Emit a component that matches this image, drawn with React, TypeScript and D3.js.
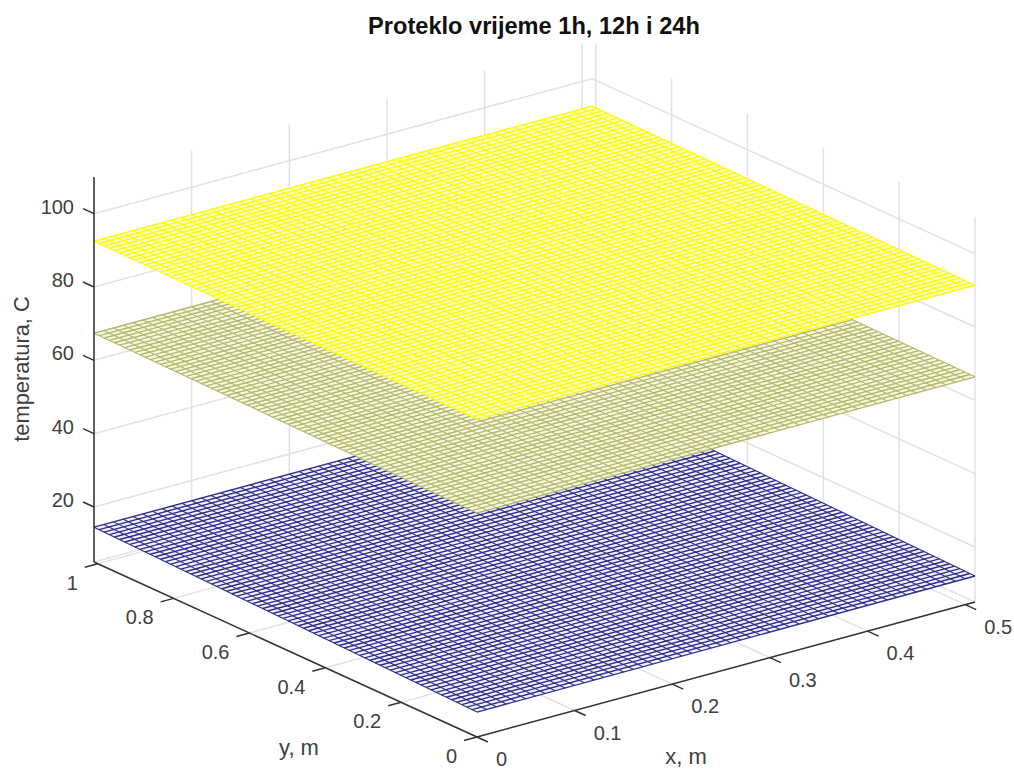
import React from "react";
import * as d3 from "d3";

const titleText = "Proteklo vrijeme 1h, 12h i 24h";
const xTicks = [0, 0.1, 0.2, 0.3, 0.4, 0.5];
const yTicks = [0, 0.2, 0.4, 0.6, 0.8, 1];
const zTicks = [20, 40, 60, 80, 100];
const xLimits = [0, 0.51];
const yLimits = [0, 1.01];
const zLimits = [5, 110];
const meshCellsX = 51;
const meshCellsY = 75;

// corner temperatures: [x0y0, x1y0, x0y1, x1y1]
const temp1h = [11.8, 12.1, 14.5, 14.5];
const temp12h = [66.1, 66.4, 67.4, 67.4];
const temp24h = [91.7, 91.4, 92.5, 92.5];

const surfaces = [
  { z: temp1h, line: "#2e2e90", fill: "#f2f2fa", rowWidth: 1.4, colWidth: 1.1 },
  { z: temp12h, line: "#b4b76f", fill: "#f7f8dc", rowWidth: 1.4, colWidth: 1.1 },
  { z: temp24h, line: "#fbfb14", fill: "#fdfdc8", rowWidth: 1.5, colWidth: 1.2 },
];

const font = "'Liberation Sans', Arial, sans-serif";
const tickColor = "#404040";

const sx = d3.scaleLinear().domain(xLimits).range([0, 1]);
const sy = d3.scaleLinear().domain(yLimits).range([0, 1]);
const szPx = d3.scaleLinear().domain(zLimits).range([0, 385]);

const O = [477, 737];
const vX = [498, -135];
const vY = [-383, -175];

const proj = (x: number, y: number, z: number): [number, number] => {
  const u = sx(x), v = sy(y);
  return [O[0] + u * vX[0] + v * vY[0], O[1] + u * vX[1] + v * vY[1] - szPx(z)];
};

const seg = (a: [number, number], b: [number, number]) =>
  d3.line()([a, b]) as string;

const [x0, x1] = xLimits;
const [y0, y1] = yLimits;
const [z0, z1] = zLimits;

function Surface({ s }: { s: (typeof surfaces)[number] }) {
  const zAt = (u: number, v: number) =>
    s.z[0] * (1 - u) * (1 - v) + s.z[1] * u * (1 - v) + s.z[2] * (1 - u) * v + s.z[3] * u * v;
  const pt = (u: number, v: number) => proj(x0 + u * (x1 - x0), y0 + v * (y1 - y0), zAt(u, v));
  const outline = d3.line()([pt(0, 0), pt(1, 0), pt(1, 1), pt(0, 1)]) + "Z";
  const us = d3.range(meshCellsX + 1).map((i) => i / meshCellsX);
  const vs = d3.range(meshCellsY + 1).map((i) => i / meshCellsY);
  const cols = us.map((u) => seg(pt(u, 0), pt(u, 1))).join("");
  const rows = vs.map((v) => seg(pt(0, v), pt(1, v))).join("");
  return (
    <g filter="url(#soft)">
      <path d={outline} fill={s.fill} />
      <path d={cols} fill="none" stroke={s.line} strokeWidth={s.colWidth} />
      <path d={rows} fill="none" stroke={s.line} strokeWidth={s.rowWidth} />
    </g>
  );
}

export default function App() {
  const grid: string[] = [];
  xTicks.forEach((t) => {
    grid.push(seg(proj(t, y1, z0), proj(t, y1, z1)));
    grid.push(seg(proj(t, y0, z0), proj(t, y1, z0)));
  });
  yTicks.forEach((t) => {
    grid.push(seg(proj(x1, t, z0), proj(x1, t, z1)));
    grid.push(seg(proj(x0, t, z0), proj(x1, t, z0)));
  });
  zTicks.forEach((t) => {
    grid.push(seg(proj(x0, y1, t), proj(x1, y1, t)));
    grid.push(seg(proj(x1, y1, t), proj(x1, y0, t)));
  });
  grid.push(seg(proj(x1, y0, z0), proj(x1, y0, z1)));
  grid.push(seg(proj(x0, y1, z0), proj(x1, y1, z0)));
  grid.push(seg(proj(x1, y1, z0), proj(x1, y0, z0)));

  const axisX = seg(proj(x0, y0, z0), proj(x1, y0, z0));
  const axisY = seg(proj(x0, y0, z0), proj(x0, y1, z0));
  const axisZ = seg(proj(x0, y1, z0), proj(x0, y1, z1));

  return (
    <svg
      width={1014}
      height={770}
      style={{ position: "absolute", left: 0, top: 0, background: "#fff" }}
      fontFamily={font}
    >
      <defs>
        <filter id="soft" x="-2%" y="-2%" width="104%" height="104%">
          <feGaussianBlur stdDeviation="0.3" />
        </filter>
      </defs>
      <path d={grid.join("")} fill="none" stroke="#e2e2e6" strokeWidth={1.5} />
      {surfaces.map((s, i) => (
        <Surface key={i} s={s} />
      ))}
      <path d={axisX + axisY + axisZ} fill="none" stroke="#333" strokeWidth={1.5} />
      {xTicks.map((t) => {
        const [px, py] = proj(t, y0, z0);
        return (
          <g key={t}>
            <line x1={px} y1={py} x2={px + 11} y2={py + 5} stroke="#333" strokeWidth={1.5} />
            <text x={px + 19} y={py + 29} fontSize={20} fill={tickColor}>
              {t}
            </text>
          </g>
        );
      })}
      {yTicks.map((t) => {
        const [px, py] = proj(x0, t, z0);
        return (
          <g key={t}>
            <line x1={px} y1={py} x2={px - 13} y2={py + 3.5} stroke="#333" strokeWidth={1.5} />
            <text x={px - 20} y={py + 26} fontSize={20} fill={tickColor} textAnchor="end">
              {t}
            </text>
          </g>
        );
      })}
      {zTicks.map((t) => {
        const [px, py] = proj(x0, y1, t);
        return (
          <g key={t}>
            <line x1={px} y1={py} x2={px - 11} y2={py - 5} stroke="#333" strokeWidth={1.5} />
            <text x={74} y={py} fontSize={20} fill={tickColor} textAnchor="end">
              {t}
            </text>
          </g>
        );
      })}
      <text x={686} y={764} fontSize={22} fill={tickColor} textAnchor="middle">
        x, m
      </text>
      <text x={299} y={755} fontSize={22} fill={tickColor} textAnchor="middle">
        y, m
      </text>
      <text
        transform="translate(29,369) rotate(-90)"
        fontSize={21.8}
        fill={tickColor}
        textAnchor="middle"
      >
        temperatura, C
      </text>
      <text x={534} y={34} fontSize={23.6} fontWeight="bold" fill="#111" textAnchor="middle">
        {titleText}
      </text>
    </svg>
  );
}
